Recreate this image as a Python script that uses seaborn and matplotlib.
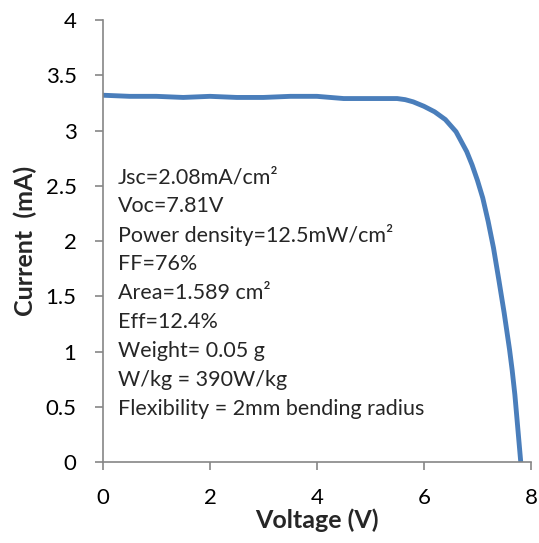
import pandas as pd
import matplotlib.pyplot as plt
import matplotlib.ticker as mticker
import seaborn as sns

# I-V curve
voltage = [0.0, 0.5, 1.0, 1.5, 2.0, 2.5, 3.0, 3.5, 4.0, 4.5, 5.0, 5.5,
           5.65, 5.8, 6.0, 6.2, 6.4, 6.6, 6.8, 6.9, 7.0, 7.1, 7.2, 7.3,
           7.4, 7.5, 7.6, 7.65, 7.7, 7.81]
current = [3.32, 3.31, 3.31, 3.30, 3.31, 3.30, 3.30, 3.31, 3.31, 3.29, 3.29, 3.29,
           3.28, 3.26, 3.22, 3.17, 3.10, 2.99, 2.81, 2.69, 2.55, 2.39, 2.18, 1.94,
           1.65, 1.35, 1.02, 0.83, 0.61, 0.0]

info_lines = ['Jsc=2.08mA/cm²', 'Voc=7.81V', 'Power density=12.5mW/cm²',
              'FF=76%', 'Area=1.589 cm²', 'Eff=12.4%', 'Weight= 0.05 g',
              'W/kg = 390W/kg', 'Flexibility = 2mm bending radius']

df = pd.DataFrame({'Voltage': voltage, 'Current': current})

sns.set_style('ticks')
plt.rcParams['font.family'] = ['Lato', 'DejaVu Sans']

fig = plt.figure(figsize=(5.39, 5.43), dpi=100)
ax = fig.add_axes([0.191, 0.149, 0.794, 0.814])

sns.lineplot(data=df, x='Voltage', y='Current', ax=ax,
             color='#4A7EBB', linewidth=3.5, sort=False,
             solid_joinstyle='round')

ax.set_xlim(0, 8)
ax.set_ylim(0, 4)
ax.set_xticks([0, 2, 4, 6, 8])
ax.set_yticks([0, 0.5, 1, 1.5, 2, 2.5, 3, 3.5, 4])
ax.yaxis.set_major_formatter(mticker.FuncFormatter(lambda v, p: f'{v:g}'))
ax.xaxis.set_major_formatter(mticker.FuncFormatter(lambda v, p: f'{v:g}'))

for side in ['top', 'right']:
    ax.spines[side].set_visible(False)
for side in ['left', 'bottom']:
    ax.spines[side].set_color('#868686')
    ax.spines[side].set_linewidth(1.2)
ax.tick_params(axis='both', direction='out', length=6, width=1.2,
               color='#868686', labelsize=16, labelcolor='black')
ax.tick_params(axis='y', pad=13)
ax.tick_params(axis='x', pad=13)

ax.set_xlabel('Voltage (V)', fontsize=18, fontweight='bold', labelpad=0)
ax.set_ylabel('Current  (mA)', fontsize=18, fontweight='bold', labelpad=6)

y0, step = 2.58, 0.262
for i, line in enumerate(info_lines):
    ax.text(0.28, y0 - i * step, line, fontsize=15.5, va='center', ha='left')

plt.savefig('out.png', dpi=100)
